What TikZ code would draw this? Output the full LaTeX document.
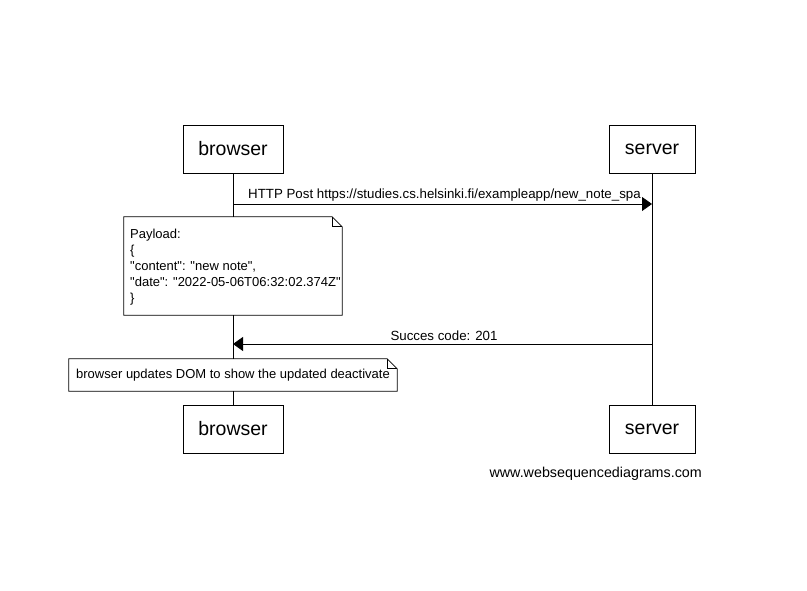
\documentclass[tikz,border=0pt]{standalone}
\usepackage{fontspec}
\setmainfont{Liberation Sans}[Ligatures=TeXOff]
\usetikzlibrary{arrows.meta}

\begin{document}
\begin{tikzpicture}
[x=1pt,y=-1pt,
actorBox/.style={rectangle,draw,thick,fill=white,inner sep=0pt,
minimum width=#1,minimum height=48pt,font=\fontsize{19.5}{22}\selectfont},
noteBox/.style={rectangle,fill=white,inner sep=0pt,
font=\fontsize{13}{16}\selectfont},
msgLine/.style={line width=0.8pt,-{Triangle[length=10pt,width=14pt]}},
msgLabel/.style={font=\fontsize{13.3}{15}\selectfont,inner sep=0pt}]
  \useasboundingbox (0,0) rectangle (807,591);
  \fill[white] (0,0) rectangle (807,591);
  % participants
  \node[actorBox=100pt] (browserTop) at (233,149) {browser};
  \node[actorBox=86pt]  (serverTop)  at (652,149) {server};
  \node[actorBox=100pt] (browserBot) at (233,429) {browser};
  \node[actorBox=86pt]  (serverBot)  at (652,429) {server};
  % lifelines
  \draw[line width=0.8pt] (browserTop) -- (browserBot);
  \draw[line width=0.8pt] (serverTop) -- (serverBot);
  % messages
  \coordinate (postFrom) at (233,204);
  \coordinate (postTo)   at (652,204);
  \coordinate (ackFrom)  at (652,344);
  \coordinate (ackTo)    at (233,344);
  \draw[msgLine] (postFrom) -- (postTo);
  \node[msgLabel,anchor=base west] (postText) at (248,199)
    {HTTP Post https://studies.cs.helsinki.fi/exampleapp/new\_note\_spa};
  \draw[msgLine] (ackFrom) -- (ackTo);
  \node[msgLabel,anchor=base] (ackText) at (444,340) {Succes code: 201};
  % notes
  \node[noteBox,minimum width=218pt,minimum height=98pt] (payloadNote) at (233,266) {};
  \draw[line width=0.8pt] (payloadNote.south west) -- (payloadNote.north west)
    -- ([xshift=-10pt]payloadNote.north east) -- ([yshift=-10pt]payloadNote.north east)
    -- (payloadNote.south east) -- cycle;
  \draw[line width=0.8pt] ([xshift=-10pt]payloadNote.north east)
    -- ([xshift=-10pt,yshift=-10pt]payloadNote.north east) -- ([yshift=-10pt]payloadNote.north east);
  \node[noteBox,anchor=north west,align=left] (payloadText) at (130,229)
    {Payload:\\ \{\\ "content": "new note",\\ "date": "2022-05-06T06:32:02.374Z"\\ \}};
  \node[noteBox,minimum width=328pt,minimum height=32pt] (domNote) at (233,375)
    {browser updates DOM to show the updated deactivate};
  \draw[line width=0.8pt] (domNote.south west) -- (domNote.north west)
    -- ([xshift=-10pt]domNote.north east) -- ([yshift=-10pt]domNote.north east)
    -- (domNote.south east) -- cycle;
  \draw[line width=0.8pt] ([xshift=-10pt]domNote.north east)
    -- ([xshift=-10pt,yshift=-10pt]domNote.north east) -- ([yshift=-10pt]domNote.north east);
  % watermark
  \node[msgLabel,font=\fontsize{14.3}{16}\selectfont,anchor=base east] (siteMark) at (702,477)
    {www.websequencediagrams.com};
\end{tikzpicture}
\end{document}
